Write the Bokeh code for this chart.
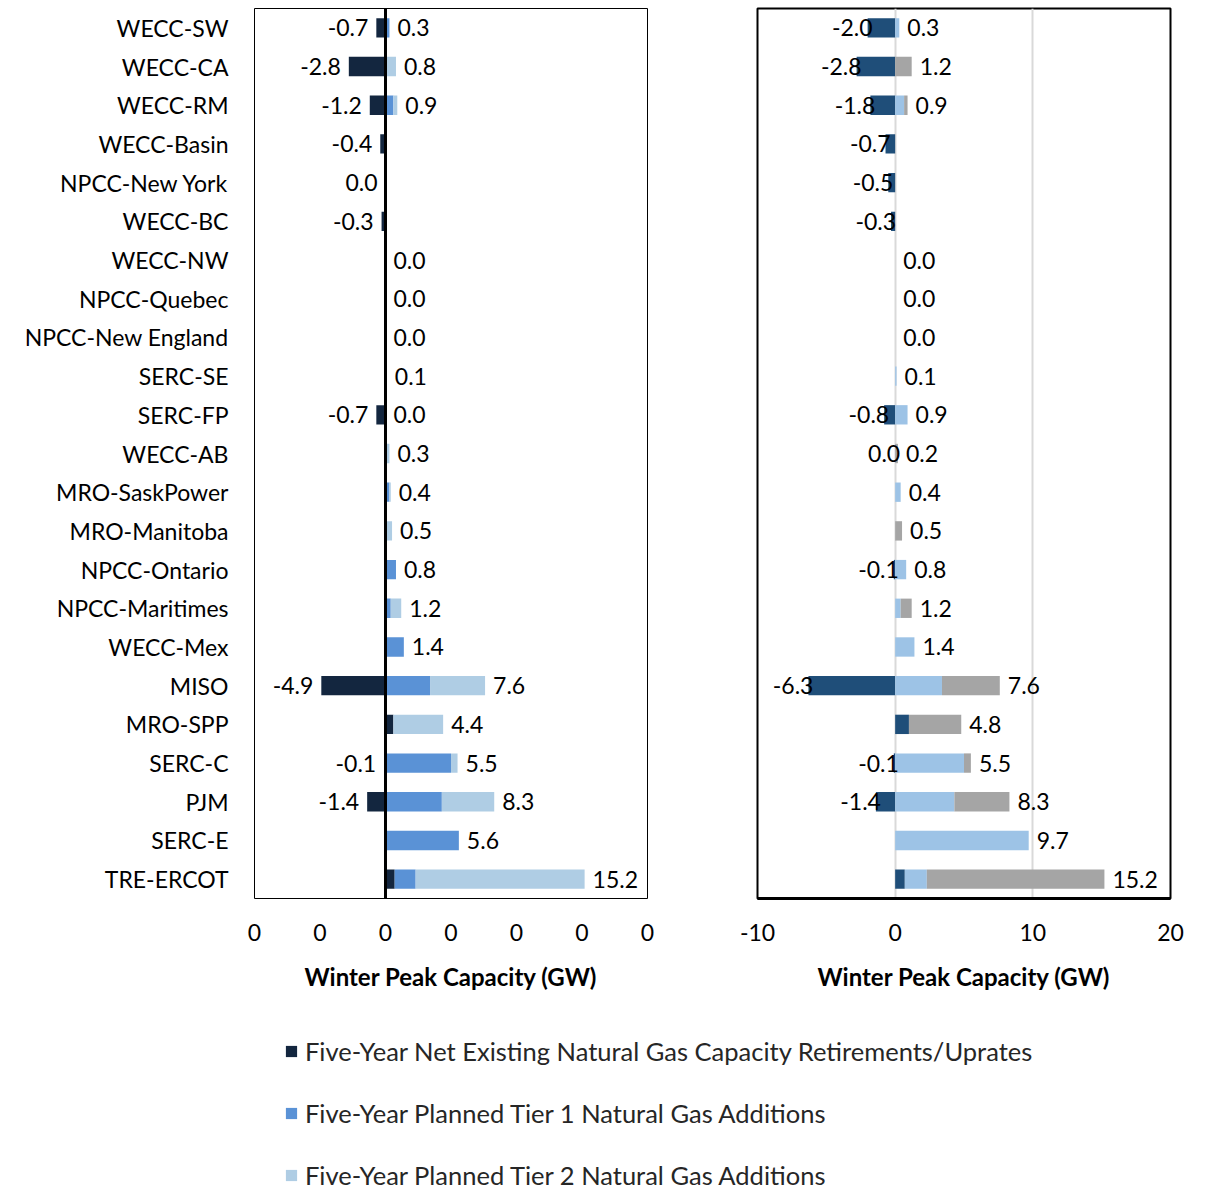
import numpy as np
from bokeh.plotting import figure
from bokeh.models import (ColumnDataSource, FactorRange, Range1d, FixedTicker,
                          Span, Legend, LegendItem)
from bokeh.layouts import column, row
from bokeh.embed import file_html
from bokeh.resources import INLINE
from bokeh.core.properties import value

# ---------------- data ----------------
regions = ["WECC-SW", "WECC-CA", "WECC-RM", "WECC-Basin", "NPCC-New York", "WECC-BC",
           "WECC-NW", "NPCC-Quebec", "NPCC-New England", "SERC-SE", "SERC-FP", "WECC-AB",
           "MRO-SaskPower", "MRO-Manitoba", "NPCC-Ontario", "NPCC-Maritimes", "WECC-Mex",
           "MISO", "MRO-SPP", "SERC-C", "PJM", "SERC-E", "TRE-ERCOT"]

# left chart
left_net   = [-0.7, -2.8, -1.2, -0.4, 0.0, -0.3, 0, 0, 0, 0, -0.7, 0, 0, 0, 0, 0, 0, -4.9, 0.6, -0.1, -1.4, 0, 0.7]
left_tier1 = [0.3, 0, 0.6, 0, 0, 0, 0, 0, 0, 0.1, 0, 0, 0.3, 0, 0.8, 0.4, 1.4, 3.4, 0, 5.0, 4.3, 5.6, 1.6]
left_tier2 = [0, 0.8, 0.3, 0, 0, 0, 0, 0, 0, 0, 0, 0.3, 0.1, 0.5, 0, 0.8, 0, 4.2, 3.8, 0.5, 4.0, 0, 12.9]
left_neg_labels = [-0.7, -2.8, -1.2, -0.4, 0.0, -0.3, None, None, None, None, -0.7, None, None, None,
                   None, None, None, -4.9, None, -0.1, -1.4, None, None]
left_pos_labels = [0.3, 0.8, 0.9, None, None, None, 0.0, 0.0, 0.0, 0.1, 0.0, 0.3, 0.4, 0.5, 0.8, 1.2,
                   1.4, 7.6, 4.4, 5.5, 8.3, 5.6, 15.2]

# right chart
right_net   = [-2.0, -2.8, -1.8, -0.7, -0.5, -0.3, 0, 0, 0, 0, -0.8, 0.0, 0, 0, -0.1, 0, 0, -6.3, 1.0, -0.1, -1.4, 0, 0.7]
right_light = [0.3, 0, 0.65, 0, 0, 0, 0, 0, 0, 0.1, 0.9, 0, 0.4, 0, 0.8, 0.4, 1.4, 3.4, 0, 5.0, 4.3, 9.7, 1.6]
right_grey  = [0, 1.2, 0.25, 0, 0, 0, 0, 0, 0, 0, 0, 0.2, 0, 0.5, 0, 0.8, 0, 4.2, 3.8, 0.5, 4.0, 0, 12.9]
right_neg_labels = [-2.0, -2.8, -1.8, -0.7, -0.5, -0.3, None, None, None, None, -0.8, 0.0, None, None,
                    -0.1, None, None, -6.3, None, -0.1, -1.4, None, None]
right_pos_labels = [0.3, 1.2, 0.9, None, None, None, 0.0, 0.0, 0.0, 0.1, 0.9, 0.2, 0.4, 0.5, 0.8, 1.2,
                    1.4, 7.6, 4.8, 5.5, 8.3, 9.7, 15.2]

left_ticks = [-10, -5, 0, 5, 10, 15, 20]
left_tick_labels = ["0", "0", "0", "0", "0", "0", "0"]
right_ticks = [-10, 0, 10, 20]
right_tick_labels = ["-10", "0", "10", "20"]

axis_title = "Winter Peak Capacity (GW)"
legend_labels = ["Five-Year Net Existing Natural Gas Capacity Retirements/Uprates",
                 "Five-Year Planned Tier 1 Natural Gas Additions",
                 "Five-Year Planned Tier 2 Natural Gas Additions"]

LEFT_COLORS = ["#13263F", "#5A92D6", "#AFCDE4"]
RIGHT_COLORS = ["#1F4E79", "#9DC3E6", "#A5A5A5"]
FONT = "Lato"
FS = "23px"


def stack_source(net, a, b):
    net = np.array(net, float); a = np.array(a, float); b = np.array(b, float)
    base = np.maximum(net, 0)
    return ColumnDataSource(dict(
        region=regions,
        d0=np.minimum(net, 0), d1=np.maximum(net, 0),
        a0=base, a1=base + a,
        b0=base + a, b1=base + a + b))


def label_sources(net, a, b, neg_labels, pos_labels):
    net = np.array(net, float); a = np.array(a, float); b = np.array(b, float)
    end = np.maximum(net, 0) + a + b
    neg = dict(region=[], x=[], text=[])
    pos = dict(region=[], x=[], text=[])
    for i, r in enumerate(regions):
        if neg_labels[i] is not None:
            neg["region"].append(r); neg["x"].append(min(net[i], 0.0))
            neg["text"].append("%.1f" % neg_labels[i])
        if pos_labels[i] is not None:
            pos["region"].append(r); pos["x"].append(end[i])
            pos["text"].append("%.1f" % pos_labels[i])
    return ColumnDataSource(neg), ColumnDataSource(pos)


H = 995
FRAME_TOP = 8
FRAME_BOTTOM = 898


def base_fig(width, mbl, mbr):
    p = figure(width=width, height=H, y_range=FactorRange(factors=regions[::-1], range_padding=0),
               x_range=Range1d(-10, 20), output_backend="svg", toolbar_location=None,
               min_border_left=mbl, min_border_right=mbr, min_border_top=FRAME_TOP,
               min_border_bottom=H - FRAME_BOTTOM)
    p.background_fill_color = "white"
    p.border_fill_color = "white"
    for ax in p.axis:
        ax.major_tick_line_color = None
        ax.minor_tick_line_color = None
        ax.major_label_text_font = FONT
        ax.major_label_text_font_size = FS
        ax.major_label_text_color = "black"
    p.xaxis.axis_label = axis_title
    p.xaxis.axis_label_text_font = FONT
    p.xaxis.axis_label_text_font_style = "bold"
    p.xaxis.axis_label_text_font_size = "24px"
    p.xaxis.axis_label_text_color = "black"
    p.xaxis.major_label_standoff = 19
    p.xaxis.axis_label_standoff = 18
    return p


def draw(p, src, colors, neg_src, pos_src, neg_off, pos_off):
    for (l, r), c in zip([("d0", "d1"), ("a0", "a1"), ("b0", "b1")], colors):
        p.hbar(y="region", left=l, right=r, height=0.5, source=src, fill_color=c, line_color=None)
    p.text(x="x", y="region", text="text", source=neg_src, text_align="right", text_baseline="middle",
           x_offset=neg_off, text_font=value(FONT), text_font_size=value(FS), text_color="black")
    p.text(x="x", y="region", text="text", source=pos_src, text_align="left", text_baseline="middle",
           x_offset=pos_off, text_font=value(FONT), text_font_size=value(FS), text_color="black")


# ---------------- left chart ----------------
pL = base_fig(700, 254, 53)
pL.grid.visible = False
pL.outline_line_color = "black"
pL.outline_line_width = 1
pL.xaxis.axis_line_color = None
pL.yaxis.axis_line_color = None
pL.yaxis.major_label_standoff = 20
pL.xaxis.ticker = FixedTicker(ticks=left_ticks)
pL.xaxis.major_label_overrides = {t: s for t, s in zip(left_ticks, left_tick_labels)}
srcL = stack_source(left_net, left_tier1, left_tier2)
negL, posL = label_sources(left_net, left_tier1, left_tier2, left_neg_labels, left_pos_labels)
draw(pL, srcL, LEFT_COLORS, negL, posL, -8, 8)
pL.add_layout(Span(location=0, dimension="height", line_color="black", line_width=3))

# ---------------- right chart ----------------
pR = base_fig(512, 57, 42)
pR.yaxis.visible = False
pR.ygrid.visible = False
pR.xgrid.ticker = FixedTicker(ticks=[0, 10])
pR.xgrid.grid_line_color = "#D9D9D9"
pR.xgrid.grid_line_width = 2
pR.outline_line_color = "black"
pR.outline_line_width = 2
pR.xaxis.axis_line_color = "black"
pR.xaxis.axis_line_width = 3
pR.xaxis.ticker = FixedTicker(ticks=right_ticks)
pR.xaxis.major_label_overrides = {t: s for t, s in zip(right_ticks, right_tick_labels)}
srcR = stack_source(right_net, right_light, right_grey)
negR, posR = label_sources(right_net, right_light, right_grey, right_neg_labels, right_pos_labels)
draw(pR, srcR, RIGHT_COLORS, negR, posR, 5, 8)

# ---------------- legend ----------------
pB = figure(width=1212, height=1191 - H, output_backend="svg", toolbar_location=None, min_border=0,
            x_range=Range1d(0, 1), y_range=Range1d(0, 1))
pB.axis.visible = False
pB.grid.visible = False
pB.outline_line_color = None
items = []
for lab, c in zip(legend_labels, LEFT_COLORS):
    r = pB.rect(x=[-5], y=[-5], width=0.1, height=0.1, fill_color=c, line_color=None)
    items.append(LegendItem(label=lab, renderers=[r]))
leg = Legend(items=items, location=(284, 0), orientation="vertical", glyph_width=14, glyph_height=14,
             label_height=32, spacing=30, padding=0, margin=0, border_line_color=None,
             background_fill_alpha=0, label_text_font=FONT, label_text_font_size="25.5px",
             label_standoff=7, label_text_color="#262626")
pB.add_layout(leg)

layout = column(row(pL, pR), pB)
open("out.html", "w").write(file_html(layout, INLINE))
